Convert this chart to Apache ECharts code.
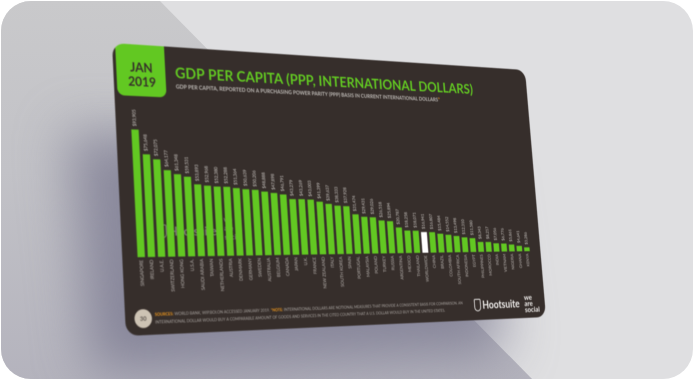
<!DOCTYPE html>
<html><head><meta charset="utf-8">
<style>
html,body{margin:0;padding:0;width:694px;height:380px;background:#fff;overflow:hidden}
#bg{position:absolute;left:1px;top:1px;width:692px;height:378px;border-radius:30px;overflow:hidden;background:#dfdfe1}
#band{position:absolute;left:-1px;top:-1px;width:694px;height:380px;background:linear-gradient(180deg,#c9c9cb 0%,#c2c2c7 45%,#b4b3bd 100%);clip-path:polygon(0 0,159px 0,533px 380px,0 380px)}
#shadow{position:absolute;left:-1px;top:-1px;width:694px;height:380px;filter:blur(26px)}
#shadow div{position:absolute;inset:0;background:rgba(112,110,135,.68);clip-path:polygon(68px 130px,480px 170px,505px 352px,92px 372px)}
#card{position:absolute;left:0;top:0;width:960px;height:540px;transform-origin:0 0;border-radius:24px;overflow:hidden;filter:blur(.9px)}
</style></head><body>
<div id="bg"><div id="band"></div><div id="shadow"><div></div></div></div>
<div id="card"></div>
<script src="https://cdn.jsdelivr.net/npm/echarts@6/dist/echarts.min.js"></script>
<script>
const categories=['SINGAPORE','IRELAND','U.A.E.','SWITZERLAND','HONG KONG','U.S.A.','SAUDI ARABIA','TAIWAN','NETHERLANDS','AUSTRIA','DENMARK','GERMANY','SWEDEN','AUSTRALIA','BELGIUM','CANADA','JAPAN','U.K.','FRANCE','NEW ZEALAND','ITALY','SOUTH KOREA','SPAIN','PORTUGAL','MALAYSIA','POLAND','TURKEY','RUSSIA','ARGENTINA','MEXICO','THAILAND','WORLDWIDE','CHINA','BRAZIL','COLOMBIA','SOUTH AFRICA','INDONESIA','EGYPT','PHILIPPINES','MOROCCO','INDIA','VIETNAM','NIGERIA','GHANA','KENYA'];
const gdpValues=[93905,75648,72075,64177,61348,59531,53893,52968,52380,52288,51364,50639,50206,48888,47898,46791,43279,43269,43003,41399,39637,38333,37928,31474,29431,29026,26518,25894,20787,18258,18071,16941,16807,15484,14552,13498,12310,11580,8343,8217,7056,6776,5861,4641,3286];
const highlighted='WORLDWIDE';
const titleText='GDP PER CAPITA (PPP, INTERNATIONAL DOLLARS)';
const subtitleText='GDP PER CAPITA, REPORTED ON A PURCHASING POWER PARITY (PPP) BASIS IN CURRENT INTERNATIONAL DOLLARS';
const quad=[[112,43],[525,70],[546,317],[126,336]];

const W=960,H=540,card=document.getElementById('card');
(function(){
 const [[x0,y0],[x1,y1],[x2,y2],[x3,y3]]=quad;
 const dx1=x1-x2,dx2=x3-x2,sx=x0-x1+x2-x3,dy1=y1-y2,dy2=y3-y2,sy=y0-y1+y2-y3;
 const den=dx1*dy2-dx2*dy1,g=(sx*dy2-dx2*sy)/den,h=(dx1*sy-sx*dy1)/den;
 const a=x1-x0+g*x1,b=x3-x0+h*x3,d=y1-y0+g*y1,e=y3-y0+h*y3;
 card.style.transform='matrix3d('+[a/W,d/W,0,g/W,b/H,e/H,0,h/H,0,0,1,0,x0,y0,0,1].join(',')+')';
})();

const font='Lato, "Open Sans", sans-serif';
const ghost='rgba(255,255,255,.36)';
const chart=echarts.init(card,null,{width:W,height:H});
chart.setOption({
 animation:false,
 backgroundColor:'#362e2b',
 title:[
  {text:titleText,left:119,top:31,textStyle:{color:'#62c822',fontFamily:font,fontWeight:'bold',fontSize:29.2}},
  {text:subtitleText+'{o|*}',left:119,top:66,textStyle:{color:'#bdb9b5',fontFamily:font,fontSize:10.8,rich:{o:{color:'#f39a1d',fontSize:10.8}}}}
 ],
 grid:{left:27,width:907,top:146,height:252},
 xAxis:{type:'category',data:categories,axisLine:{show:false},axisTick:{show:false},
  axisLabel:{interval:0,rotate:90,margin:5,color:'#b9b4b0',fontFamily:font,fontSize:8.6}},
 yAxis:{type:'value',min:0,max:100000,show:false,splitLine:{show:false}},
 series:[{type:'bar',barCategoryGap:'28%',
  data:gdpValues.map((v,i)=>({value:v,itemStyle:{color:categories[i]===highlighted?'#ffffff':'#62c822'}})),
  label:{show:true,position:'top',rotate:90,distance:6,align:'left',verticalAlign:'middle',color:'#cfcbc7',fontFamily:font,fontSize:8.6,
   formatter:p=>'$'+p.value.toLocaleString('en-US')}}],
 graphic:[
  {type:'rect',shape:{x:6,y:-20,width:98,height:118,r:14},style:{fill:'#62c822'}},
  {type:'text',style:{x:56,y:44,text:'JAN',fill:'#362e2b',font:'bold 24px '+font,textAlign:'center',textVerticalAlign:'middle'}},
  {type:'text',style:{x:56,y:71,text:'2019',fill:'#362e2b',font:'bold 24px '+font,textAlign:'center',textVerticalAlign:'middle'}},
  {type:'group',z:20,children:[
   {type:'rect',shape:{x:74,y:339,width:15,height:24,r:[2,2,8,8]},style:{fill:'none',stroke:ghost,lineWidth:2}},
   {type:'text',style:{x:95,y:352,text:'Hootsuite',fill:ghost,font:'bold 22px '+font,textVerticalAlign:'middle'}},
   {type:'text',style:{x:208,y:328,text:'we',fill:ghost,font:'bold 14px '+font,textVerticalAlign:'middle'}},
   {type:'text',style:{x:208,y:345,text:'are',fill:ghost,font:'bold 14px '+font,textVerticalAlign:'middle'}},
   {type:'text',style:{x:208,y:362,text:'social',fill:ghost,font:'bold 14px '+font,textVerticalAlign:'middle'}}
  ]},
  {type:'circle',shape:{cx:35,cy:510,r:17},style:{fill:'#cdc3b4'}},
  {type:'text',style:{x:35,y:510,text:'30',fill:'#5a524c',font:'bold 11px '+font,textAlign:'center',textVerticalAlign:'middle'}},
  {type:'text',style:{x:58,y:503,fill:'#a9a4a0',font:'7.75px '+font,textVerticalAlign:'middle',
    text:'{a|SOURCES:} WORLD BANK, WIP.BOI.ON ACCESSED JANUARY 2019. {a|*NOTE:} INTERNATIONAL DOLLARS ARE NOTIONAL MEASURES THAT PROVIDE A CONSISTENT BASIS FOR COMPARISON. AN',
    rich:{a:{fill:'#f39a1d',font:'bold 7.75px '+font}}}},
  {type:'text',style:{x:58,y:517,fill:'#a9a4a0',font:'7.75px '+font,textVerticalAlign:'middle',
    text:'INTERNATIONAL DOLLAR WOULD BUY A COMPARABLE AMOUNT OF GOODS AND SERVICES IN THE CITED COUNTRY THAT A U.S. DOLLAR WOULD BUY IN THE UNITED STATES.'}},
  {type:'rect',shape:{x:775,y:497,width:15,height:24,r:[2,2,8,8]},style:{fill:'none',stroke:'#e8e6e4',lineWidth:2}},
  {type:'text',style:{x:795,y:510,text:'Hootsuite',fill:'#f0eeec',font:'bold 22px '+font,textVerticalAlign:'middle'}},
  {type:'text',style:{x:905,y:497,text:'we',fill:'#f0eeec',font:'bold 16px '+font,textVerticalAlign:'middle'}},
  {type:'text',style:{x:905,y:510,text:'are',fill:'#f0eeec',font:'bold 16px '+font,textVerticalAlign:'middle'}},
  {type:'text',style:{x:905,y:523,text:'social',fill:'#f0eeec',font:'bold 16px '+font,textVerticalAlign:'middle'}}
 ]
});
</script></body></html>
